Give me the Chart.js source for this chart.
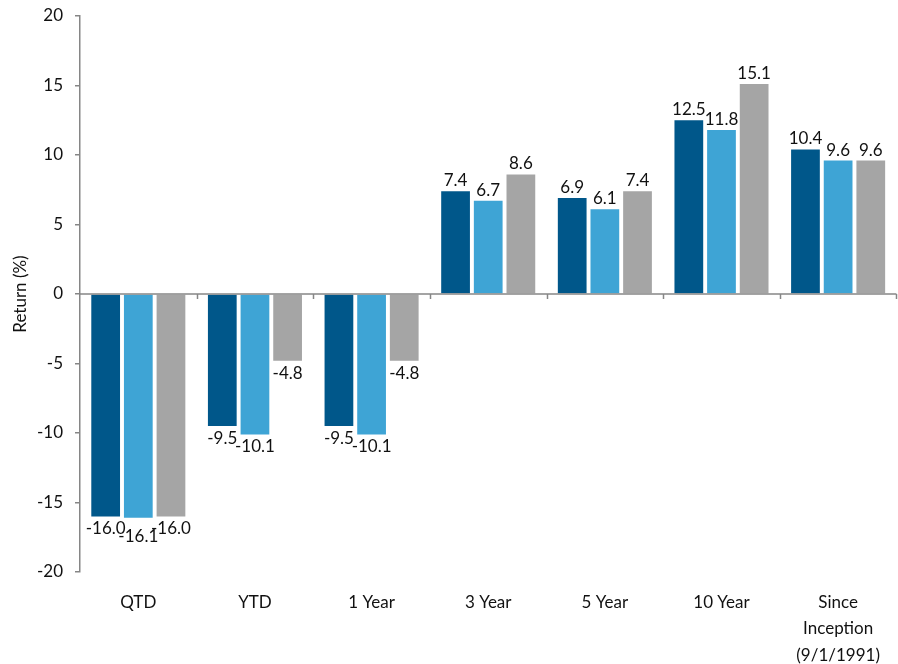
<!DOCTYPE html>
<html>
<head>
<meta charset="utf-8">
<script src="https://cdn.jsdelivr.net/npm/chart.js@4.4.0/dist/chart.umd.min.js"></script>
<style>
  html, body { margin: 0; padding: 0; background: #fff; }
  #wrap { width: 898px; height: 664px; }
</style>
</head>
<body>
<div id="wrap"><canvas id="grafico" width="898" height="664"></canvas></div>
<script>
// dados
const categorias = ['QTD', 'YTD', '1 Year', '3 Year', '5 Year', '10 Year', ['Since', 'Inception', '(9/1/1991)']];
const serieA = [-16.0, -9.5, -9.5, 7.4, 6.9, 12.5, 10.4];
const serieB = [-16.1, -10.1, -10.1, 6.7, 6.1, 11.8, 9.6];
const serieC = [-16.0, -4.8, -4.8, 8.6, 7.4, 15.1, 9.6];
const ticksY = [-20, -15, -10, -5, 0, 5, 10, 15, 20];

const corEixo = '#868686';
const fonte = 'Lato, "Open Sans", sans-serif';

// linha do zero + marcas entre categorias
const linhaZero = {
    id: 'linhaZero',
    afterDatasetsDraw(chart) {
        const ctx = chart.ctx;
        const y0 = chart.scales.y.getPixelForValue(0);
        const area = chart.chartArea;
        ctx.save();
        ctx.strokeStyle = corEixo;
        ctx.lineWidth = 1.5;
        ctx.beginPath();
        ctx.moveTo(area.left, y0);
        ctx.lineTo(area.right, y0);
        const passo = (area.right - area.left) / categorias.length;
        for (let i = 1; i <= categorias.length; i++) {
            const xx = Math.round(area.left + passo * i) + 0.5;
            ctx.moveTo(xx, y0);
            ctx.lineTo(xx, y0 + 5);
        }
        ctx.stroke();
        ctx.restore();
    }
};

// rótulos dos valores (desloca um pouco quando encosta no vizinho)
const rotulos = {
    id: 'rotulos',
    afterDatasetsDraw(chart) {
        const ctx = chart.ctx;
        ctx.save();
        ctx.font = '17px ' + fonte;
        ctx.fillStyle = '#111';
        ctx.textAlign = 'center';
        ctx.textBaseline = 'top';
        for (let j = 0; j < categorias.length; j++) {
            let anterior = null;
            chart.data.datasets.forEach((ds, i) => {
                const bar = chart.getDatasetMeta(i).data[j];
                const v = ds.data[j];
                const txt = v.toFixed(1);
                const w = ctx.measureText(txt).width;
                let y = v >= 0 ? bar.y - 19 : bar.y + 4;
                let deslocado = false;
                if (anterior && !anterior.deslocado &&
                    Math.abs(anterior.y - y) < 4 &&
                    anterior.x + anterior.w / 2 > bar.x - w / 2) {
                    y += v >= 0 ? -6 : 6;
                    deslocado = true;
                }
                ctx.fillText(txt, bar.x, y);
                anterior = { x: bar.x, y: y, w: w, deslocado: deslocado };
            });
        }
        ctx.restore();
    }
};

new Chart(document.getElementById('grafico'), {
    type: 'bar',
    data: {
        labels: categorias,
        datasets: [
            { label: 'A', data: serieA, backgroundColor: '#00578A' },
            { label: 'B', data: serieB, backgroundColor: '#3EA4D5' },
            { label: 'C', data: serieC, backgroundColor: '#A5A5A5' }
        ]
    },
    options: {
        responsive: false,
        animation: false,
        layout: { padding: { top: 16, right: 1, left: 0, bottom: 0 } },
        datasets: { bar: { categoryPercentage: 0.84, barPercentage: 0.88 } },
        plugins: { legend: { display: false }, tooltip: { enabled: false } },
        scales: {
            x: {
                grid: { display: false, drawTicks: false },
                border: { display: false },
                ticks: { color: '#111', font: { family: fonte, size: 17, lineHeight: 1.53 }, padding: 18, maxRotation: 0, autoSkip: false },
                afterFit(s) { s.height = 92; }
            },
            y: {
                min: -20, max: 20,
                afterBuildTicks(s) { s.ticks = ticksY.map(v => ({ value: v })); },
                grid: { color: 'transparent', tickColor: corEixo, tickLength: 5, lineWidth: 1.5 },
                border: { color: corEixo, width: 1.5 },
                ticks: { color: '#111', font: { family: fonte, size: 17 }, padding: 12 },
                title: { display: true, text: 'Return (%)', color: '#111', font: { family: fonte, size: 17 }, padding: { top: 10, bottom: 0 } },
                afterFit(s) { s.width = 80; s.paddingTop = 0; s.paddingBottom = 0; }
            }
        }
    },
    plugins: [linhaZero, rotulos]
});
</script>
</body>
</html>
